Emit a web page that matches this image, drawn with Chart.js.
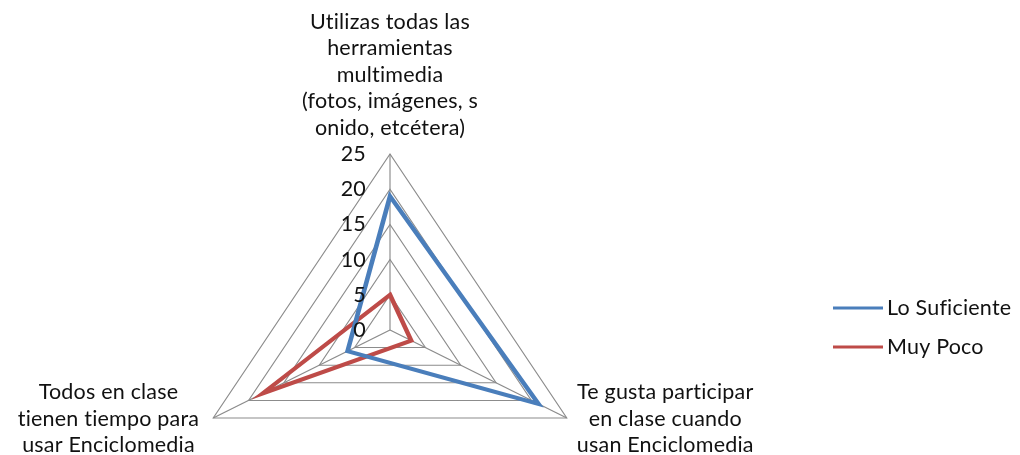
<!DOCTYPE html>
<html>
<head>
<meta charset="utf-8">
<script src="https://cdn.jsdelivr.net/npm/chart.js@4/dist/chart.umd.min.js"></script>
<style>
  html, body { margin: 0; padding: 0; background: #fff; }
</style>
</head>
<body>
<canvas id="myChart" width="1020" height="455"></canvas>
<script>
// data
const categories = [
  ["Utilizas todas las", "herramientas", "multimedia", "(fotos, imágenes, s", "onido, etcétera)"],
  ["Te gusta participar", "en clase cuando", "usan Enciclomedia"],
  ["Todos en clase", "tienen tiempo para", "usar Enciclomedia"]
];
const seriesNames = ["Lo Suficiente", "Muy Poco"];
const loSuficiente = [19, 21, 6];
const muyPoco = [5, 3, 18];
const tickValues = [0, 5, 10, 15, 20, 25];

// layout
const CX = 390, CY = 330, R = 176, SX = 1.16;
const FONT = '21.5px Lato, "Noto Sans", sans-serif';
const colors = ["#4A7EBB", "#BE4B48"];

// excel draws the triangle a bit wider than it is tall
const stretch = {
  id: "stretch",
  beforeDraw(chart) {
    const ctx = chart.ctx;
    ctx.save();
    ctx.translate(CX, 0);
    ctx.scale(SX, 1);
    ctx.translate(-CX, 0);
  },
  afterDatasetsDraw(chart) {
    chart.ctx.restore();
  }
};

const labelsPlugin = {
  id: "labels",
  afterDraw(chart) {
    const ctx = chart.ctx;
    const scale = chart.scales.r;
    ctx.save();
    ctx.font = FONT;
    ctx.fillStyle = "#111";
    if ("letterSpacing" in ctx) ctx.letterSpacing = "0.2px";

    // tick labels, left of the vertical axis
    ctx.textAlign = "right";
    ctx.textBaseline = "middle";
    tickValues.forEach(v => {
      const d = scale.getDistanceFromCenterForValue(v);
      ctx.fillText(String(v), scale.xCenter - 24, scale.yCenter - d);
    });

    // category labels
    const lh = 26.5;
    categories.forEach((lines, i) => {
      const p = scale.getPointPosition(i, scale.drawingArea);
      const x = scale.xCenter + (p.x - scale.xCenter) * SX;
      const w = Math.max(...lines.map(l => ctx.measureText(l).width));
      ctx.textAlign = "center";
      ctx.textBaseline = "middle";
      let bx, by;
      if (i === 0) {
        bx = x;
        by = p.y - 14 - lh * (lines.length - 1) - lh / 2;
      } else if (x > scale.xCenter) {
        bx = x + 10 + w / 2;
        by = p.y - lh;
      } else {
        bx = x - 14 - w / 2;
        by = p.y - lh;
      }
      lines.forEach((l, j) => ctx.fillText(l, bx, by + j * lh + 1));
    });

    // legend
    ctx.textAlign = "left";
    chart.data.datasets.forEach((ds, i) => {
      const y = 308 + i * 39;
      ctx.strokeStyle = ds.borderColor;
      ctx.lineWidth = 3;
      ctx.beginPath();
      ctx.moveTo(833, y);
      ctx.lineTo(883, y);
      ctx.stroke();
      ctx.fillText(ds.label, 887, y);
    });
    ctx.restore();
  }
};

new Chart(document.getElementById("myChart").getContext("2d"), {
  type: "radar",
  data: {
    labels: categories,
    datasets: [
      {
        label: seriesNames[0],
        data: loSuficiente,
        borderColor: colors[0],
        backgroundColor: "transparent",
        fill: false,
        borderWidth: 4,
        pointRadius: 0
      },
      {
        label: seriesNames[1],
        data: muyPoco,
        borderColor: colors[1],
        backgroundColor: "transparent",
        fill: false,
        borderWidth: 4,
        pointRadius: 0
      }
    ]
  },
  options: {
    responsive: false,
    animation: false,
    devicePixelRatio: 1,
    plugins: {
      legend: { display: false },
      tooltip: { enabled: false }
    },
    scales: {
      r: {
        min: 0,
        max: 25,
        ticks: { stepSize: 5, display: false },
        pointLabels: { display: false },
        grid: { color: "#8c8c8c", lineWidth: 1 },
        angleLines: { color: "#8c8c8c", lineWidth: 1 },
        afterFit(scale) {
          scale.xCenter = CX;
          scale.yCenter = CY;
          scale.drawingArea = R;
        }
      }
    }
  },
  plugins: [stretch, labelsPlugin]
});
</script>
</body>
</html>
